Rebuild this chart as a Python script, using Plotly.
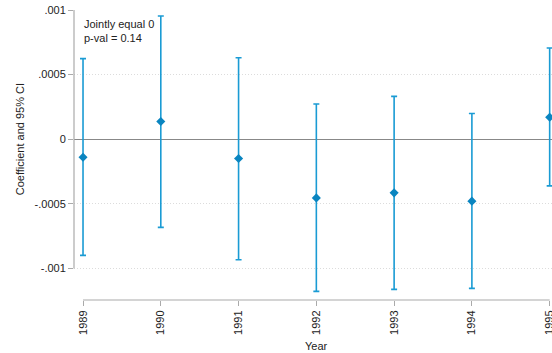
import plotly.graph_objects as go

years = [1989, 1990, 1991, 1992, 1993, 1994, 1995]
coef = [-0.000139, 0.000137, -0.000149, -0.000454, -0.000415, -0.000479, 0.000170]
ci_upper = [0.000624, 0.000953, 0.000631, 0.000273, 0.000332, 0.000199, 0.000706]
ci_lower = [-0.000899, -0.000682, -0.000933, -0.001177, -0.001162, -0.001154, -0.000361]
y_tickvals = [-0.001, -0.0005, 0, 0.0005, 0.001]
y_ticktext = ["-.001", "-.0005", "0", ".0005", ".001"]
annotation_lines = ["Jointly equal 0", "p-val = 0.14"]
x_title = "Year"
y_title = "Coefficient and 95% CI"

err_plus = [u - c for u, c in zip(ci_upper, coef)]
err_minus = [c - l for c, l in zip(coef, ci_lower)]

fig = go.Figure()
fig.add_trace(go.Scatter(
    x=years, y=coef, mode="markers",
    marker=dict(symbol="diamond", size=7, color="#0a85c0"),
    error_y=dict(type="data", symmetric=False, array=err_plus, arrayminus=err_minus,
                 color="#1a9bd4", thickness=1.6, width=3),
    showlegend=False, cliponaxis=False,
))

font = dict(family="Liberation Sans, Arial, sans-serif", size=11, color="#222")

fig.update_layout(
    width=552, height=353,
    margin=dict(l=74, r=0, t=10, b=53, autoexpand=False),
    paper_bgcolor="white", plot_bgcolor="white",
    font=font,
    xaxis=dict(
        range=[1988.884, 1995.03], tickvals=years, ticktext=[str(y) for y in years],
        tickangle=-90, ticks="outside", ticklen=5, tickcolor="#aaa", tickwidth=1,
        showgrid=False, showline=False, zeroline=False, automargin=False,
        ticklabeloverflow="allow",
    ),
    yaxis=dict(
        range=[-0.001244, 0.001], tickvals=y_tickvals, ticktext=y_ticktext,
        ticks="outside", ticklen=5, tickcolor="#aaa", tickwidth=1,
        showgrid=True, gridcolor="#dcdcdc", griddash="1px,2px", gridwidth=1,
        zeroline=True, zerolinecolor="#888", zerolinewidth=1.2,
        showline=False, automargin=False,
    ),
)

# Axis lines (Stata-style: limited to tick range)
fig.add_shape(type="line", xref="x", yref="paper", x0=years[0], x1=years[-1], y0=0, y1=0,
              line=dict(color="#aaa", width=1.2))
fig.add_shape(type="line", xref="paper", yref="y", x0=0, x1=0, y0=y_tickvals[0], y1=y_tickvals[-1],
              line=dict(color="#aaa", width=1.2))

fig.add_annotation(x=0.016, xref="paper", y=0.001, yref="y", yshift=-6,
                   text="<br>".join(annotation_lines), showarrow=False,
                   xanchor="left", yanchor="top", align="left", font=font)

# Axis titles
fig.add_annotation(x=years[3], xref="x", y=0, yref="paper", yshift=-46,
                   text=x_title, showarrow=False, xanchor="center", yanchor="middle", font=font)
fig.add_annotation(x=0, xref="paper", xshift=-54, y=0.5 * (y_tickvals[0] + y_tickvals[-1]), yref="y",
                   text=y_title, showarrow=False, textangle=-90,
                   xanchor="center", yanchor="middle", font=font)

fig.write_html("out.html", config={"displayModeBar": False},
               post_script="document.body.style.margin='0';document.body.style.overflow='hidden';")
